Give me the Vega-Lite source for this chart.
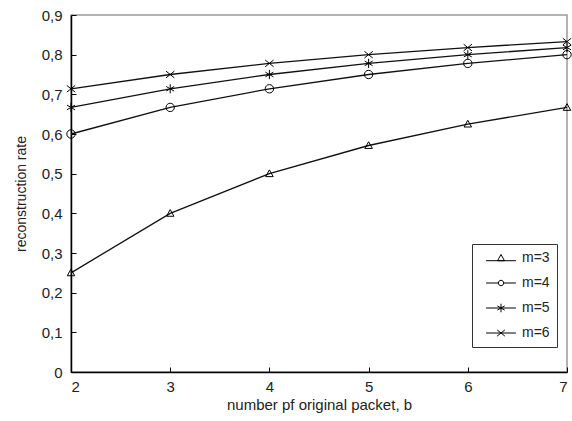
{
  "$schema": "https://vega.github.io/schema/vega-lite/v6.json",
  "autosize": "none",
  "width": 496,
  "height": 357,
  "padding": {"left": 71, "top": 15, "right": 5, "bottom": 49},
  "background": "white",
  "config": {
    "view": {"stroke": "#9a9a9a", "strokeWidth": 1.5},
    "font": "Liberation Sans",
    "axis": {"grid": false, "domainColor": "black", "domainWidth": 1.5, "tickColor": "black", "labelColor": "#222", "titleColor": "#222", "labelFont": "Liberation Sans", "titleFont": "Liberation Sans", "labelFontSize": 15, "titleFontSize": 14, "titleFontWeight": "normal", "tickSize": -5, "tickWidth": 1}
  },
  "data": {
    "values": [
      {"b": 2, "m": "m=3", "r": 0.25}, {"b": 3, "m": "m=3", "r": 0.4}, {"b": 4, "m": "m=3", "r": 0.5}, {"b": 5, "m": "m=3", "r": 0.571}, {"b": 6, "m": "m=3", "r": 0.625}, {"b": 7, "m": "m=3", "r": 0.667},
      {"b": 2, "m": "m=4", "r": 0.6}, {"b": 3, "m": "m=4", "r": 0.667}, {"b": 4, "m": "m=4", "r": 0.714}, {"b": 5, "m": "m=4", "r": 0.75}, {"b": 6, "m": "m=4", "r": 0.778}, {"b": 7, "m": "m=4", "r": 0.8},
      {"b": 2, "m": "m=5", "r": 0.667}, {"b": 3, "m": "m=5", "r": 0.714}, {"b": 4, "m": "m=5", "r": 0.75}, {"b": 5, "m": "m=5", "r": 0.778}, {"b": 6, "m": "m=5", "r": 0.8}, {"b": 7, "m": "m=5", "r": 0.818},
      {"b": 2, "m": "m=6", "r": 0.714}, {"b": 3, "m": "m=6", "r": 0.75}, {"b": 4, "m": "m=6", "r": 0.778}, {"b": 5, "m": "m=6", "r": 0.8}, {"b": 6, "m": "m=6", "r": 0.818}, {"b": 7, "m": "m=6", "r": 0.833}
    ]
  },
  "encoding": {
    "x": {"field": "b", "type": "quantitative", "scale": {"domain": [2, 7], "nice": false}, "axis": {"values": [2, 3, 4, 5, 6, 7], "title": "number  pf  original  packet,  b", "titleFontSize": 15, "titlePadding": 3, "labelPadding": 12}},
    "y": {"field": "r", "type": "quantitative", "scale": {"domain": [0, 0.9], "nice": false}, "axis": {"values": [0, 0.1, 0.2, 0.3, 0.4, 0.5, 0.6, 0.7, 0.8, 0.9], "labelExpr": "datum.value == 0 ? '0' : replace(format(datum.value, '.1f'), '.', ',')", "title": "reconstruction rate", "titlePadding": 13, "labelPadding": 14}}
  },
  "layer": [
    {
      "mark": {"type": "line", "color": "#111", "strokeWidth": 1.3},
      "encoding": {"detail": {"field": "m"}}
    },
    {
      "mark": {"type": "point", "filled": false, "color": "black", "strokeWidth": 1, "size": 70, "opacity": 1},
      "encoding": {
        "shape": {
          "field": "m", "type": "nominal",
          "scale": {"domain": ["m=3", "m=4", "m=5", "m=6"], "range": ["M0,-0.9L0.9,0.7L-0.9,0.7Z", "circle", "M0,-1.1L0,1.1M-0.95,-0.55L0.95,0.55M-0.95,0.55L0.95,-0.55", "M-1,-0.8L1,0.8M-1,0.8L1,-0.8"]},
          "legend": null
        }
      }
    },
    {
      "mark": {"type": "point", "filled": false, "color": "black", "strokeWidth": 1, "size": 60, "opacity": 0},
      "encoding": {
        "shape": {
          "field": "m", "type": "nominal",
          "scale": {"domain": ["m=3", "m=4", "m=5", "m=6"], "range": ["M-3.85,0.7L3.85,0.7M0,-0.9L0.9,0.7L-0.9,0.7Z", "M-3.85,0L-0.7,0M0.7,0L3.85,0M0.7,0A0.7,0.7,0,1,1,-0.7,0A0.7,0.7,0,1,1,0.7,0", "M-3.85,0L3.85,0M0,-1.1L0,1.1M-0.95,-0.55L0.95,0.55M-0.95,0.55L0.95,-0.55", "M-3.85,0L3.85,0M-1,-0.8L1,0.8M-1,0.8L1,-0.8"]},
          "legend": {
            "title": null,
            "orient": "none",
            "legendX": 401,
            "legendY": 229,
            "strokeColor": "#333",
            "fillColor": "white",
            "padding": 7,
            "rowPadding": 11,
            "labelFontSize": 14,
            "labelFont": "Liberation Sans",
            "labelColor": "#222",
            "symbolSize": 60,
            "symbolOpacity": 1,
            "symbolStrokeColor": "black",
            "symbolStrokeWidth": 1,
            "symbolOffset": 15,
            "labelOffset": 14
          }
        }
      }
    }
  ],
  "resolve": {"scale": {"shape": "independent"}}
}
